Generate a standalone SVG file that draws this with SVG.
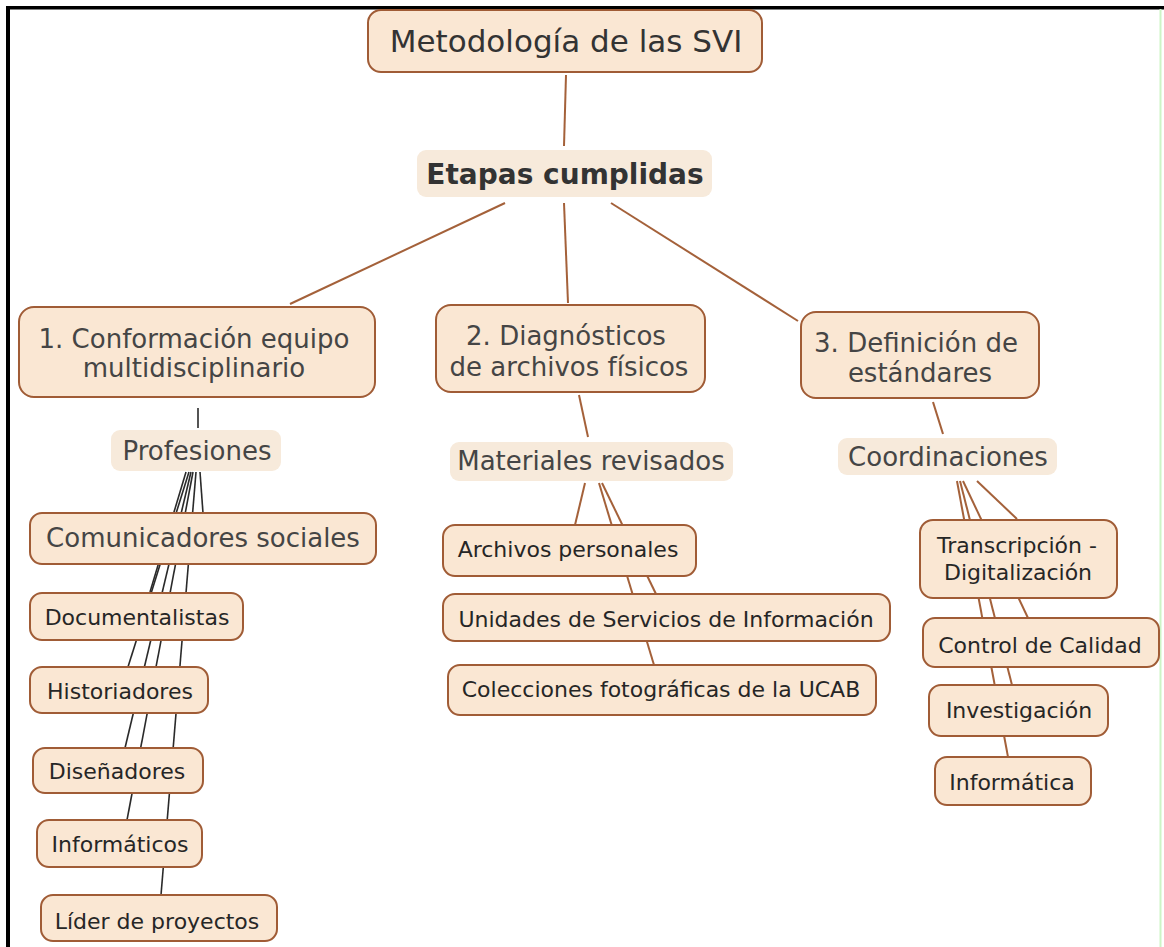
<svg xmlns="http://www.w3.org/2000/svg" width="1164" height="947" viewBox="0 0 1164 947">
<style>
  text { font-family: "DejaVu Sans", Verdana, sans-serif; text-anchor: middle; }
  .box { fill: #fae7d3; stroke: #a05c36; stroke-width: 2; }
  .lbl { fill: #f7eadb; stroke: none; }
  .t-title { font-size: 31px; fill: #333333; }
  .t-etapas { font-size: 28px; font-weight: bold; fill: #333333; }
  .t-mid { font-size: 26px; fill: #454545; }
  .t-leaf { font-size: 22px; fill: #262626; }
  .c-brown { stroke: #a4613a; stroke-width: 2; fill: none; }
  .c-dark { stroke: #2a2a2a; stroke-width: 1.6; fill: none; }
</style>
<rect x="0" y="0" width="1164" height="947" fill="#ffffff"/>
<g id="frame">
  <rect x="6" y="6" width="1158" height="3.5" fill="#000000"/>
  <rect x="6" y="6" width="4" height="941" fill="#000000"/>
  <rect x="1159.5" y="9" width="2" height="938" fill="#cdf5c6"/>
</g>
<g id="connectors">
  <line class="c-brown" x1="566" y1="75" x2="564" y2="146"/>
  <line class="c-brown" x1="505" y1="203" x2="290" y2="304"/>
  <line class="c-brown" x1="564" y1="203" x2="568" y2="303"/>
  <line class="c-brown" x1="611" y1="203" x2="798" y2="321"/>
  <line class="c-dark" x1="198" y1="408" x2="198" y2="428"/>
  <line class="c-brown" x1="579" y1="395" x2="588" y2="437"/>
  <line class="c-brown" x1="933" y1="402" x2="943" y2="434"/>
  <line class="c-dark" x1="200" y1="472" x2="203" y2="513"/>
  <line class="c-dark" x1="186" y1="472" x2="150" y2="592"/>
  <line class="c-dark" x1="189" y1="472" x2="128" y2="667"/>
  <line class="c-dark" x1="191" y1="472" x2="125" y2="748"/>
  <line class="c-dark" x1="193" y1="472" x2="127" y2="820"/>
  <line class="c-dark" x1="196" y1="472" x2="161" y2="895"/>
  <line class="c-brown" x1="585" y1="483" x2="575" y2="525"/>
  <line class="c-brown" x1="602" y1="483" x2="656" y2="594"/>
  <line class="c-brown" x1="599" y1="483" x2="654" y2="665"/>
  <line class="c-brown" x1="977" y1="481" x2="1017" y2="519"/>
  <line class="c-brown" x1="963" y1="481" x2="1028" y2="618"/>
  <line class="c-brown" x1="960" y1="481" x2="1012" y2="685"/>
  <line class="c-brown" x1="957" y1="481" x2="1008" y2="757"/>
</g>
<g id="n-title">
  <rect class="box" x="368" y="10" width="394" height="62" rx="13"/>
  <text class="t-title" x="566" y="52">Metodología de las SVI</text>
</g>
<g id="n-etapas">
  <rect class="lbl" x="417" y="150" width="295" height="47" rx="9"/>
  <text class="t-etapas" x="565" y="184">Etapas cumplidas</text>
</g>
<g id="n-conformacion">
  <rect class="box" x="19" y="307" width="356" height="90" rx="15"/>
  <text class="t-mid" x="194" y="348">1. Conformación equipo</text>
  <text class="t-mid" x="194" y="377">multidisciplinario</text>
</g>
<g id="n-profesiones">
  <rect class="lbl" x="111" y="430" width="170" height="41" rx="9"/>
  <text class="t-mid" x="197" y="460">Profesiones</text>
</g>
<g id="n-comunicadores">
  <rect class="box" x="30" y="513" width="346" height="51" rx="12"/>
  <text class="t-mid" x="203" y="547">Comunicadores sociales</text>
</g>
<g id="n-documentalistas">
  <rect class="box" x="30" y="593" width="213" height="47" rx="12"/>
  <text class="t-leaf" x="137" y="625">Documentalistas</text>
</g>
<g id="n-historiadores">
  <rect class="box" x="30" y="667" width="178" height="46" rx="12"/>
  <text class="t-leaf" x="120" y="699">Historiadores</text>
</g>
<g id="n-disenadores">
  <rect class="box" x="33" y="748" width="170" height="45" rx="12"/>
  <text class="t-leaf" x="117" y="779">Diseñadores</text>
</g>
<g id="n-informaticos">
  <rect class="box" x="37" y="820" width="165" height="47" rx="12"/>
  <text class="t-leaf" x="120" y="852">Informáticos</text>
</g>
<g id="n-lider">
  <rect class="box" x="41" y="895" width="236" height="46" rx="12"/>
  <text class="t-leaf" x="157" y="929">Líder de proyectos</text>
</g>
<g id="n-diagnosticos">
  <rect class="box" x="436" y="305" width="269" height="87" rx="15"/>
  <text class="t-mid" x="566" y="345">2. Diagnósticos</text>
  <text class="t-mid" x="569" y="376">de archivos físicos</text>
</g>
<g id="n-materiales">
  <rect class="lbl" x="450" y="442" width="283" height="39" rx="9"/>
  <text class="t-mid" x="591" y="470">Materiales revisados</text>
</g>
<g id="n-archivos">
  <rect class="box" x="443" y="525" width="253" height="51" rx="12"/>
  <text class="t-leaf" x="568" y="557">Archivos personales</text>
</g>
<g id="n-unidades">
  <rect class="box" x="443" y="594" width="447" height="47" rx="12"/>
  <text class="t-leaf" x="666" y="627">Unidades de Servicios de Información</text>
</g>
<g id="n-colecciones">
  <rect class="box" x="448" y="665" width="428" height="50" rx="12"/>
  <text class="t-leaf" x="661" y="697">Colecciones fotográficas de la UCAB</text>
</g>
<g id="n-definicion">
  <rect class="box" x="801" y="312" width="238" height="86" rx="15"/>
  <text class="t-mid" x="916" y="352">3. Definición de</text>
  <text class="t-mid" x="920" y="382">estándares</text>
</g>
<g id="n-coordinaciones">
  <rect class="lbl" x="838" y="438" width="219" height="37" rx="9"/>
  <text class="t-mid" x="948" y="466">Coordinaciones</text>
</g>
<g id="n-transcripcion">
  <rect class="box" x="920" y="520" width="197" height="78" rx="13"/>
  <text class="t-leaf" x="1017" y="553">Transcripción -</text>
  <text class="t-leaf" x="1018" y="580">Digitalización</text>
</g>
<g id="n-control">
  <rect class="box" x="923" y="618" width="236" height="49" rx="12"/>
  <text class="t-leaf" x="1040" y="653">Control de Calidad</text>
</g>
<g id="n-investigacion">
  <rect class="box" x="929" y="685" width="179" height="51" rx="12"/>
  <text class="t-leaf" x="1019" y="718">Investigación</text>
</g>
<g id="n-informatica">
  <rect class="box" x="935" y="757" width="156" height="48" rx="12"/>
  <text class="t-leaf" x="1012" y="790">Informática</text>
</g>
</svg>
